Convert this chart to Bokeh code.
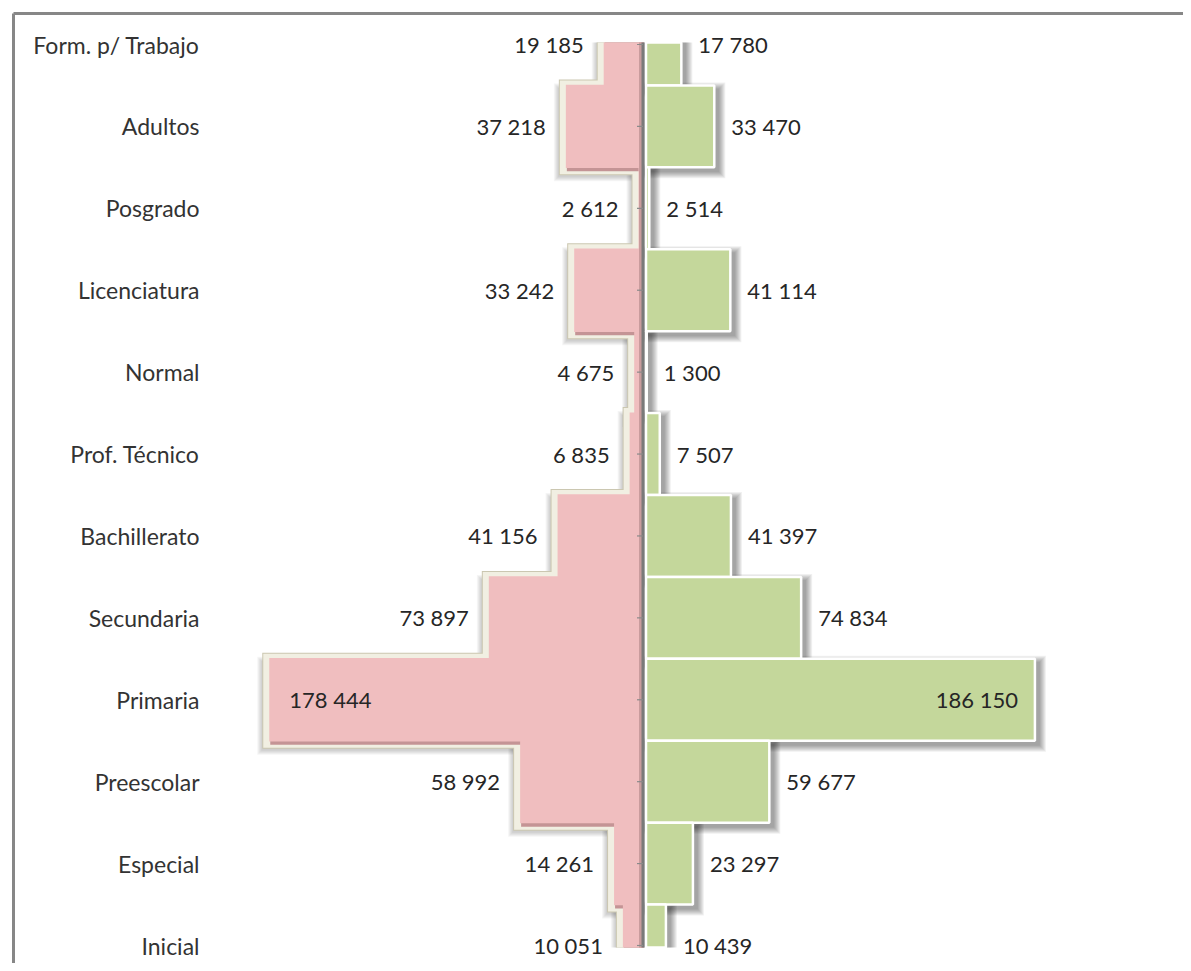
import numpy as np
from bokeh.plotting import figure
from bokeh.models import Range1d, FixedTicker
from bokeh.core.properties import value
from bokeh.embed import file_html
from bokeh.resources import INLINE

# ---------------- data ----------------
categories = ["Form. p/ Trabajo", "Adultos", "Posgrado", "Licenciatura", "Normal",
              "Prof. Técnico", "Bachillerato", "Secundaria", "Primaria",
              "Preescolar", "Especial", "Inicial"]
mujeres = [19185, 37218, 2612, 33242, 4675, 6835, 41156, 73897, 178444, 58992, 14261, 10051]
hombres = [17780, 33470, 2514, 41114, 1300, 7507, 41397, 74834, 186150, 59677, 23297, 10439]

# ---------------- geometry / style ----------------
W, H = 1183, 963
BL, BT = 13, 13
FW, FH = W - BL, H - BT
UPX = 1 / 0.0021          # data units per screen pixel (x)
ZERO = 630.5              # frame pixel of the zero line
n = len(categories)
ypos = np.arange(n)[::-1].astype(float)
YPX = 901 / 11            # screen px per category
TOPC = 31                 # frame px of the top category centre
y_end = (n - 1) + TOPC / YPX
y_start = y_end - FH / YPX
LO, HI = -0.025, (n - 1) + 0.025

FONT = value("Lato")
PINK = "#F0BEBF"
GREEN = "#C4D79B"

L = np.array(mujeres, float)
R = np.array(hombres, float)


def px(v):
    return v * UPX


def yb(top_px=0.0, bot_px=0.0):
    top = np.clip(ypos + 0.5 + top_px / YPX, LO, HI)
    bot = np.clip(ypos - 0.5 + bot_px / YPX, LO, HI)
    return top, bot


p = figure(width=W, height=H, output_backend="svg", toolbar_location=None,
           x_range=Range1d(-ZERO * UPX, (FW - ZERO) * UPX),
           y_range=Range1d(y_start, y_end),
           x_axis_location="above", y_axis_location="left",
           min_border_left=BL, min_border_top=BT, min_border_right=0, min_border_bottom=0)
p.grid.visible = False
p.outline_line_color = None
p.background_fill_color = "white"
p.border_fill_color = "white"
for ax in (p.xaxis[0], p.yaxis[0]):
    ax.ticker = FixedTicker(ticks=[])
    ax.major_tick_out = 0
    ax.major_tick_in = 0
    ax.minor_tick_out = 0
    ax.minor_tick_in = 0
    ax.major_label_standoff = 0
    ax.axis_line_color = "#878787"
    ax.axis_line_width = 3

# ---------------- green (right) series ----------------
for k in range(1, 8):
    t, b = yb(-4 + k, -4 - k)
    p.quad(left=px(4 - k), right=R + px(4 + k), top=t, bottom=b,
           fill_color="black", fill_alpha=0.06, line_color=None)
t, b = yb()
p.quad(left=px(2), right=R, top=t, bottom=b, fill_color=GREEN,
       line_color="white", line_width=2.5)

# ---------------- pink (left) series ----------------
for k in range(1, 6):
    t, b = yb(-3 + k, -9 - k)
    p.quad(left=-L - px(7 + k), right=px(-1), top=t, bottom=b,
           fill_color="black", fill_alpha=0.04, line_color=None)
t, b = yb(6, -8)
p.quad(left=-L - px(7), right=0, top=t, bottom=b, fill_color="#CBC7B1", line_color=None)
t, b = yb(5, -7)
p.quad(left=-L - px(6), right=0, top=t, bottom=b, fill_color="#F1EFE2", line_color=None)
t, b = yb(-4, -4)
p.quad(left=-L + px(1), right=0, top=t, bottom=b, fill_color="#C49495", line_color=None)
t, b = yb(0.7, -0.7)
p.quad(left=-L, right=0, top=t, bottom=b, fill_color=PINK, line_color=None)
p.quad(left=np.maximum(-L, -px(5)), right=0, top=t, bottom=b,
       fill_color="#C99C9D", line_color=None)

# ---------------- centre axis + ticks ----------------
p.segment(x0=[px(-1)], y0=[LO], x1=[px(-1)], y1=[HI], line_color="#7A7A7A", line_width=3)
p.segment(x0=np.full(n, px(-7)), y0=ypos, x1=np.full(n, px(-1)), y1=ypos,
          line_color="#8A8A8A", line_width=1.2)

# ---------------- labels ----------------
def fmt(v):
    return f"{int(v):,}".replace(",", " ")

p.text(x=np.full(n, (186 - ZERO) * UPX), y=ypos, text=categories,
       text_align="right", text_baseline="middle", text_font=FONT,
       text_font_size="23px", text_color="#333333")

l_in = L == L.max()
r_in = R == R.max()
p.text(x=-L[~l_in], y=ypos[~l_in], text=[fmt(v) for v in L[~l_in]], x_offset=-20,
       text_align="right", text_baseline="middle", text_font=FONT,
       text_font_size="22px", text_color="#262626")
p.text(x=-L[l_in], y=ypos[l_in], text=[fmt(v) for v in L[l_in]], x_offset=20,
       text_align="left", text_baseline="middle", text_font=FONT,
       text_font_size="22px", text_color="#262626")
p.text(x=R[~r_in], y=ypos[~r_in], text=[fmt(v) for v in R[~r_in]], x_offset=17,
       text_align="left", text_baseline="middle", text_font=FONT,
       text_font_size="22px", text_color="#262626")
p.text(x=R[r_in], y=ypos[r_in], text=[fmt(v) for v in R[r_in]], x_offset=-17,
       text_align="right", text_baseline="middle", text_font=FONT,
       text_font_size="22px", text_color="#262626")

open("out.html", "w").write(file_html(p, INLINE))
